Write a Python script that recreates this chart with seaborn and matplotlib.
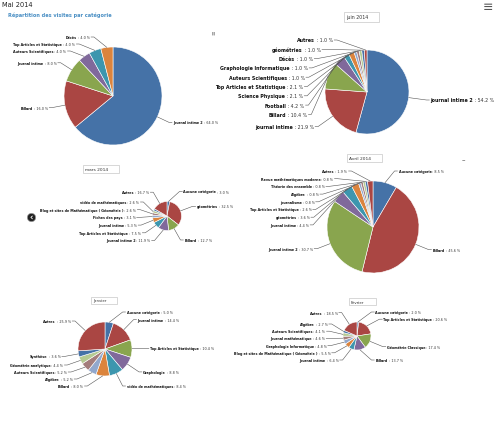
import matplotlib
matplotlib.use("Agg")
import numpy as np
import matplotlib.pyplot as plt
import seaborn as sns
from matplotlib.patches import Rectangle
from matplotlib.lines import Line2D

sns.set_theme(style="white")
plt.rcParams["font.family"] = ["DejaVu Sans"]

W, H = 499, 431

# palette façon Highcharts
couleurs = sns.color_palette(["#4572A7", "#AA4643", "#89A54E", "#80699B", "#3D96AE",
                              "#DB843D", "#92A8CD", "#A47D7C", "#B5CA92"])

# Données
mai_cat = ["Journal intime 2", "Billard", "Journal intime", "Auteurs Scientifiques",
           "Top Articles et Statistique", "Décès"]
mai_val = [64.0, 16.0, 8.0, 4.0, 4.0, 4.0]

juin_cat = ["journal intime 2", "journal intime", "Billard", "Football", "Science Physique",
            "Top Articles et Statistique", "Auteurs Scientifiques", "Graphologie Informatique",
            "Décès", "géométries", "Autres"]
juin_val = [54.2, 21.9, 10.4, 4.2, 2.1, 2.1, 1.0, 1.0, 1.0, 1.0, 1.0]

mars_cat = ["Aucune catégorie", "géométries", "Billard", "Journal intime 2",
            "Top Articles et Statistique", "Journal intime", "Fiches des pays",
            "Blog et sites de Mathématique ( Géométrie )", "vidéo de mathématiques",
            None, "Autres"]
mars_val = [3.0, 32.5, 12.7, 11.9, 7.5, 5.3, 3.1, 2.6, 2.6, 2.1, 16.7]

avril_cat = ["Aucune catégorie", "Billard", "Journal intime 2", "Journal intime", "géométries",
             "Top Articles et Statistique", "journalisme", "Algèbre", "Théorie des ensemble",
             "Revue mathématiques moderne", "Autres"]
avril_val = [8.5, 45.6, 30.7, 4.4, 3.6, 2.6, 0.8, 0.8, 0.8, 0.8, 1.9]

janvier_cat = ["Aucune catégorie", "Journal intime", "Top Articles et Statistique", "Graphologie",
               "vidéo de mathématiques", "Billard", "Algèbre", "Auteurs Scientifiques",
               "Géométrie analytique", "Synthèse", "Autres"]
janvier_val = [5.0, 14.4, 10.4, 8.8, 8.4, 8.0, 5.2, 5.2, 4.4, 3.6, 25.9]

fevrier_cat = ["Aucune catégorie", "Top Articles et Statistique", "Géométrie Classique", "Billard",
               "Journal intime", "Blog et sites de Mathématique ( Géométrie )",
               "Graphologie Informatique", "Journal mathématique", "Auteurs Scientifiques",
               "Algèbre", "Autres"]
fevrier_val = [2.0, 20.6, 17.4, 13.7, 6.4, 5.5, 4.8, 4.6, 4.1, 2.7, 18.5]

fig = plt.figure(figsize=(W / 100, H / 100), dpi=100)
fig.patch.set_facecolor("white")
renderer = fig.canvas.get_renderer()


def fx(x):
    return x / W


def fy(y):
    return 1 - y / H


def etiquette(x, y, nom, valeur, gauche, fs):
    txt = " : %.1f %%" % valeur
    if gauche:
        t = fig.text(fx(x), fy(y), txt, ha="right", va="center", fontsize=fs, color="#333333")
        bb = t.get_window_extent(renderer)
        fig.text(bb.x0 / fig.bbox.width, fy(y), nom, ha="right", va="center",
                 fontsize=fs, weight="bold", color="#111111")
    else:
        t = fig.text(fx(x), fy(y), nom, ha="left", va="center", fontsize=fs,
                     weight="bold", color="#111111")
        bb = t.get_window_extent(renderer)
        fig.text(bb.x1 / fig.bbox.width, fy(y), txt, ha="left", va="center",
                 fontsize=fs, color="#333333")


def repartir(items, haut, bas, sp):
    items.sort(key=lambda it: it[1])
    ys = []
    for i, it in enumerate(items):
        y = max(it[1], haut if i == 0 else ys[-1] + sp)
        ys.append(y)
    for i in range(len(ys) - 1, -1, -1):
        lim = bas if i == len(ys) - 1 else ys[i + 1] - sp
        ys[i] = min(ys[i], lim)
    return ys


def camembert(cats, vals, cx, cy, r, d, fs, sp):
    k = 1.05
    ax = fig.add_axes([fx(cx - r * k), fy(cy + r * k), 2 * r * k / W, 2 * r * k / H])
    cols = [couleurs[i % len(couleurs)] for i in range(len(vals))]
    ax.pie(vals, colors=cols, startangle=90, counterclock=False, radius=1,
           wedgeprops=dict(edgecolor="white", linewidth=0.4))
    ax.set_xlim(-k, k)
    ax.set_ylim(-k, k)
    ax.axis("off")

    v = np.array(vals, dtype=float)
    cum = np.cumsum(v) / v.sum()
    mid = (cum - v / v.sum() / 2) * 2 * np.pi
    R = r + d
    cotes = {True: [], False: []}
    for i, c in enumerate(cats):
        if c is None:
            continue
        gauche = np.sin(mid[i]) < 0
        cotes[gauche].append([i, cy - R * np.cos(mid[i])])
    for gauche, items in cotes.items():
        if not items:
            continue
        ys = repartir(items, cy - r - 10, cy + r + 10, sp)
        for (i, _), y in zip(items, ys):
            dy = np.clip((y - cy) / R, -1, 1)
            xa = cx + (-1 if gauche else 1) * np.cos(np.arcsin(dy)) * R
            ex = cx + r * np.sin(mid[i])
            ey = cy - r * np.cos(mid[i])
            xt = xa - 3 if gauche else xa + 3
            fig.add_artist(Line2D([fx(xt), fx(xa), fx(ex)], [fy(y), fy(y), fy(ey)],
                                  transform=fig.transFigure, color="#555555", lw=0.4))
            etiquette(xt - 1 if gauche else xt + 1, y, cats[i], vals[i], gauche, fs)


def boite(x0, y0, w, h, texte, fs):
    fig.add_artist(Rectangle((fx(x0), fy(y0 + h)), w / W, h / H, transform=fig.transFigure,
                             fc="white", ec="#c8c8c8", lw=0.5))
    fig.text(fx(x0 + 2), fy(y0 + h / 2), texte, ha="left", va="center", fontsize=fs, color="#333333")


camembert(mai_cat, mai_val, 113, 97, 49, 13, 2.4, 7.0)
camembert(juin_cat, juin_val, 367, 93, 42, 18, 3.4, 9.3)
camembert(mars_cat, mars_val, 167, 217, 14.5, 13, 2.4, 7.7)
camembert(avril_cat, avril_val, 373, 228, 46, 14, 2.4, 7.7)
camembert(janvier_cat, janvier_val, 105, 350, 27, 14, 2.4, 7.0)
camembert(fevrier_cat, fevrier_val, 357, 337, 14, 14, 2.4, 7.2)

# titres et sélecteurs
fig.text(fx(2), fy(5), "Mai 2014", ha="left", va="center", fontsize=4.8, color="#222222")
fig.text(fx(8), fy(15.5), "Répartition des visites par catégorie", ha="left", va="center",
         fontsize=3.6, color="#4a8fc4", weight="bold")
boite(344, 13, 35, 10, "juin 2014", 3.4)
boite(83, 166, 36, 8, "mars 2014", 3.2)
boite(347, 155, 35, 8, "Avril 2014", 3.2)
boite(91, 298, 26, 7, "Janvier", 2.8)
boite(349, 299, 27, 7, "Février", 2.8)

# petites icônes
fig.text(fx(488), fy(8), "≡", ha="center", va="center", fontsize=9, color="#555555")
fig.text(fx(213), fy(33), "≡", ha="center", va="center", fontsize=4, color="#777777", rotation=90)
fig.text(fx(463), fy(160), "–", ha="center", va="center", fontsize=5, color="#333333")
fig.add_artist(Line2D([fx(31)], [fy(218)], transform=fig.transFigure, marker="o",
                      ms=6, color="#222222", mec="#999999", mew=0.5))
fig.text(fx(31), fy(218), "‹", ha="center", va="center", fontsize=6, color="white", weight="bold")

fig.savefig("out.png", dpi=100, facecolor="white")
